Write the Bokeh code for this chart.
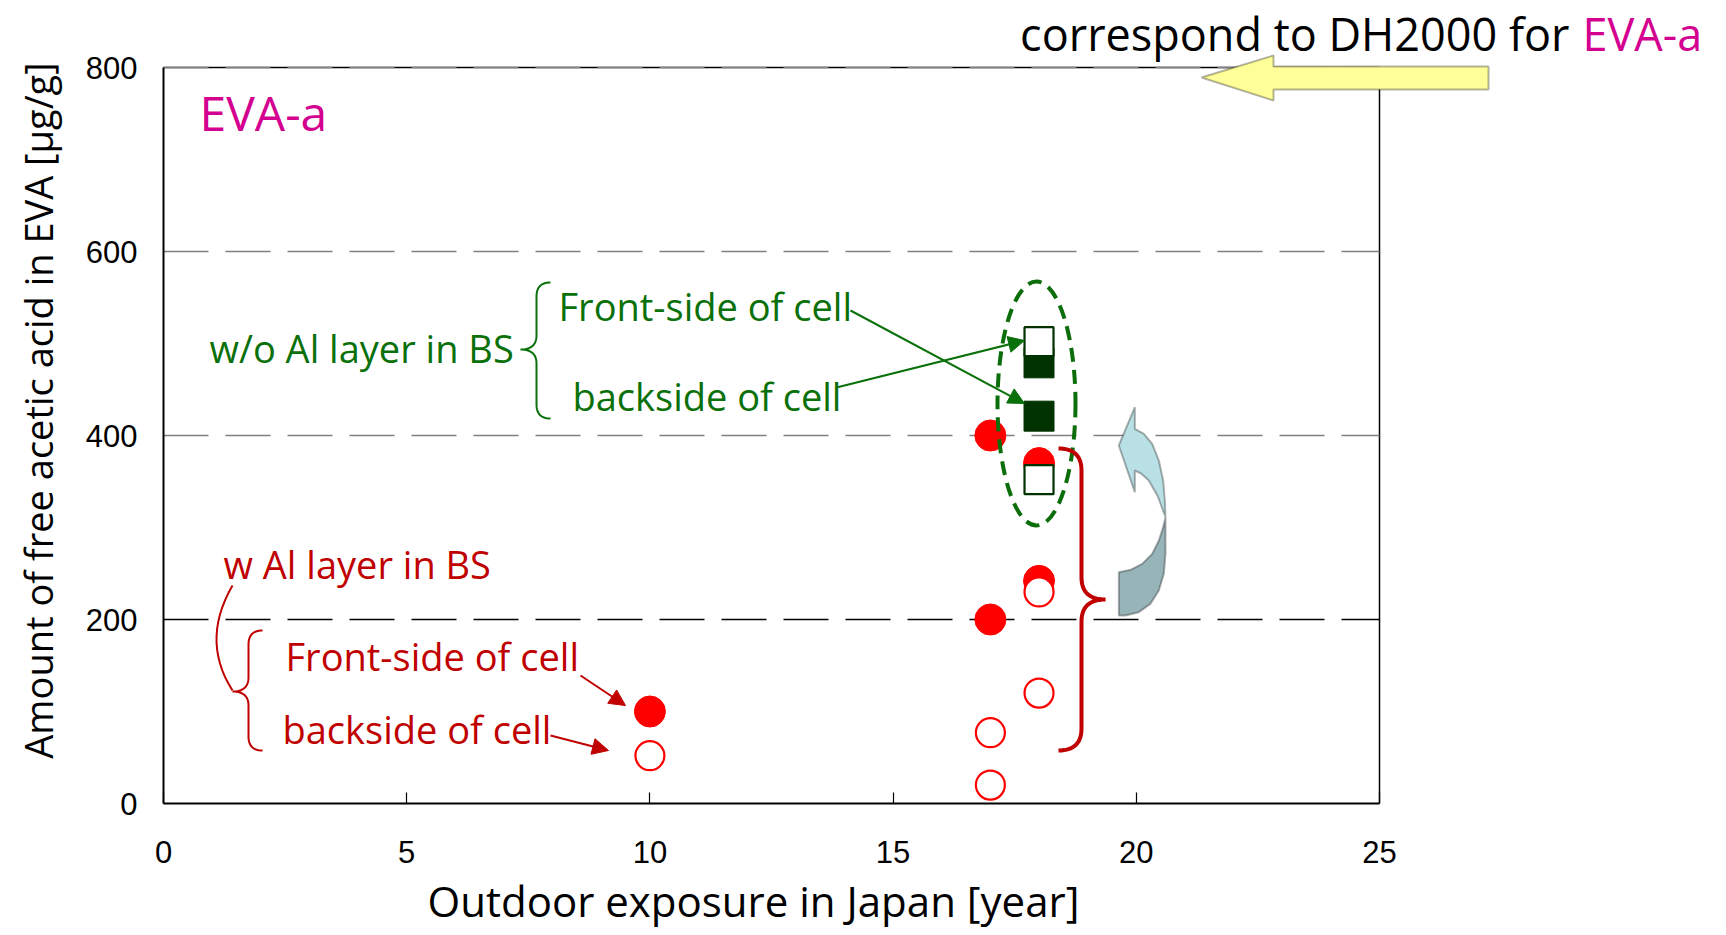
import math
import numpy as np
from bokeh.plotting import figure
from bokeh.models import Label, Arrow, NormalHead, PolyAnnotation, FixedTicker, Range1d
from bokeh.embed import file_html
from bokeh.resources import INLINE

# ---------------- data ----------------
x_front_wAl = [10, 17, 17, 18, 18]
y_front_wAl = [100, 400, 200, 370, 242]
x_back_wAl = [10, 17, 17, 18, 18]
y_back_wAl = [52, 77, 20, 230, 120]
x_front_woAl = [18, 18]
y_front_woAl = [421, 479]
x_back_woAl = [18, 18]
y_back_woAl = [352, 502]

x_ticks = [0, 5, 10, 15, 20, 25]
y_ticks = [0, 200, 400, 600, 800]
X_MAX, Y_MAX = 25, 800

RED = "#ff0000"
DARKRED = "#c00000"
GREEN_TXT = "#0a700a"
GREEN_MK = "#003300"
MAGENTA = "#d4008f"
FONT = "Open Sans"

# ---------------- layout helpers (canvas px -> data) ----------------
W, H = 1720, 930
FL, FT, FW, FH = 163, 67, 1216, 736   # where the data box sits on the canvas


def X(px):
    return (px - FL) / FW * X_MAX


def Y(py):
    return (FT + FH - py) / FH * Y_MAX


def qbez(p0, c, p1, n=16):
    t = np.linspace(0, 1, n)
    xs = (1 - t) ** 2 * p0[0] + 2 * (1 - t) * t * c[0] + t ** 2 * p1[0]
    ys = (1 - t) ** 2 * p0[1] + 2 * (1 - t) * t * c[1] + t ** 2 * p1[1]
    return list(xs), list(ys)


def brace(xe, xs, xt, yt, ym, yb, r):
    px, py = [], []
    for seg in (qbez((xe, yt), (xs, yt), (xs, yt + r)),
                qbez((xs, ym - r), (xs, ym), (xt, ym)),
                qbez((xt, ym), (xs, ym), (xs, ym + r)),
                qbez((xs, yb - r), (xs, yb), (xe, yb))):
        px += seg[0]
        py += seg[1]
    return [X(v) for v in px], [Y(v) for v in py]


p = figure(frame_width=W, frame_height=H,
           min_border_left=0, min_border_right=0,
           min_border_top=0, min_border_bottom=0,
           x_range=Range1d(X(0), X(W)), y_range=Range1d(Y(H), Y(0)),
           title=None, output_backend="svg", toolbar_location=None)
p.background_fill_color = "white"
p.border_fill_color = "white"
p.outline_line_color = None
p.xgrid.visible = False
p.ygrid.visible = False

# axes placed at the data origin
for ax in (p.xaxis, p.yaxis):
    ax.fixed_location = 0
    ax.axis_line_color = "black"
    ax.axis_line_width = 2
    ax.minor_tick_line_color = None
    ax.major_label_text_font = "Liberation Sans"
    ax.major_label_text_font_size = "31px"
    ax.major_label_text_color = "black"
    ax.major_tick_out = 0
p.xaxis.bounds = (0, X_MAX)
p.yaxis.bounds = (0, Y_MAX)
p.xaxis.ticker = FixedTicker(ticks=x_ticks)
p.yaxis.ticker = FixedTicker(ticks=y_ticks)
p.xaxis.major_tick_in = 11
p.xaxis.major_tick_line_color = "black"
p.xaxis.major_tick_line_width = 1.2
p.yaxis.major_tick_in = 0
p.yaxis.major_tick_line_color = None
p.xaxis.major_label_standoff = 37
p.yaxis.major_label_standoff = 26

# top / right border of the data box
p.line([0, X_MAX, X_MAX], [Y_MAX, Y_MAX, 0], line_color="black", line_width=1.5)

# dashed horizontal grid lines
grid_gray = [t for t in y_ticks if t not in (0, 200)]
grid_black = [200]
p.segment(x0=[0] * len(grid_gray), x1=[X_MAX] * len(grid_gray), y0=grid_gray, y1=grid_gray,
          line_color="#808080", line_width=1.5, line_dash="45 17")
p.segment(x0=[0], x1=[X_MAX], y0=grid_black, y1=grid_black,
          line_color="black", line_width=1.5, line_dash="45 17")

# ---------------- markers ----------------
p.scatter(x_front_wAl, y_front_wAl, marker="circle", size=31,
          fill_color=RED, line_color=RED, line_width=1)
p.scatter(x_front_woAl, y_front_woAl, marker="square", size=30,
          fill_color=GREEN_MK, line_color=GREEN_MK, line_width=1)
p.scatter(x_back_wAl, y_back_wAl, marker="circle", size=29,
          fill_color="white", line_color=RED, line_width=2.2)
p.scatter(x_back_woAl, y_back_woAl, marker="square", size=29,
          fill_color="white", line_color=GREEN_MK, line_width=2.2)

# green dashed ellipse
p.ellipse(x=[X(1036)], y=[Y(403)], width=[78], height=[244],
          width_units="screen", height_units="screen",
          fill_color=None, line_color="#0b6e0b", line_width=4, line_dash="14 8")

# big red brace
bx, by = brace(1058, 1081, 1105, 448, 599, 750, 22)
p.line(bx, by, line_color=DARKRED, line_width=4)

# green brace
gx, gy = brace(550, 536, 520, 282, 349, 418, 14)
p.line(gx, gy, line_color=GREEN_TXT, line_width=2)

# thin red brace + connector
rx, ry = brace(262, 248, 232, 630, 691, 750, 14)
p.line(rx, ry, line_color=DARKRED, line_width=2)
cx, cy = qbez((232, 690), (200, 640), (232, 585))
p.line([X(v) for v in cx], [Y(v) for v in cy], line_color=DARKRED, line_width=2)

# ---------------- curved light-blue arrow ----------------
def z3(pts):
    return [X(1100 + a / 3.0) for a, b in pts], [Y(380 + b / 3.0) for a, b in pts]

dark_pts = [(55, 575), (90, 568), (125, 550), (155, 520), (175, 480), (188, 440),
            (195, 410), (195, 520), (190, 580), (175, 630), (150, 670), (115, 695),
            (75, 705), (55, 705)]
light_pts = [(103, 80), (103, 145), (130, 160), (155, 190), (175, 240), (188, 300),
             (193, 360), (195, 410), (172, 348), (145, 300), (122, 279), (103, 270),
             (103, 335), (55, 195)]
dx, dy = z3(dark_pts)
lx, ly = z3(light_pts)
p.add_layout(PolyAnnotation(xs=dx, ys=dy, fill_color="#97b4b8", fill_alpha=1,
                            line_color="black", line_width=2))
p.add_layout(PolyAnnotation(xs=lx, ys=ly, fill_color="#b9e0e4", fill_alpha=1,
                            line_color="black", line_width=2))

# yellow arrow (top right)
yl = [(1201, 77), (1273, 55), (1273, 66), (1488, 66), (1488, 89), (1273, 89), (1273, 100)]
p.add_layout(PolyAnnotation(xs=[X(a) for a, b in yl], ys=[Y(b) for a, b in yl],
                            fill_color="#ffff99", fill_alpha=1,
                            line_color="black", line_width=2))

# ---------------- arrows ----------------
def arrow(x0, y0, x1, y1, color, size=16):
    p.add_layout(Arrow(end=NormalHead(size=size, fill_color=color, line_color=color),
                       x_start=X(x0), y_start=Y(y0), x_end=X(x1), y_end=Y(y1),
                       line_color=color, line_width=2))

arrow(850, 310, 1024, 403, GREEN_TXT)
arrow(836, 387, 1024, 340, GREEN_TXT)
arrow(580, 675, 625, 705, DARKRED)
arrow(550, 735, 608, 750, DARKRED)

# ---------------- texts ----------------
SHIFT = 0.38   # measured offset of the rendered baseline, in em


def label(txt, px, py, color, size, align="left", angle=0.0):
    if angle:
        px = px - SHIFT * size
    else:
        py = py - SHIFT * size
    p.add_layout(Label(x=X(px), y=Y(py), text=txt, text_color=color,
                       text_font=FONT, text_font_size=f"{size}px",
                       text_align=align, text_baseline="alphabetic", angle=angle))

label("correspond to DH2000 for", 1569, 50, "black", 45, align="right")
label("EVA-a", 1582, 50, MAGENTA, 45)
label("EVA-a", 199, 130, MAGENTA, 48)

label("w/o Al layer in BS", 209, 362, GREEN_TXT, 38)
label("Front-side of cell", 558, 320, GREEN_TXT, 38)
label("backside of cell", 572, 410, GREEN_TXT, 38)

label("w Al layer in BS", 223, 578, DARKRED, 38)
label("Front-side of cell", 285, 670, DARKRED, 38)
label("backside of cell", 282, 743, DARKRED, 38)

label("Outdoor exposure in Japan [year]", 753, 916, "black", 42, align="center")
label("Amount of free acetic acid in EVA [\u00b5g/g]", 52, 410, "black", 38,
      align="center", angle=math.pi / 2)

open("out.html", "w").write(file_html(p, INLINE))
